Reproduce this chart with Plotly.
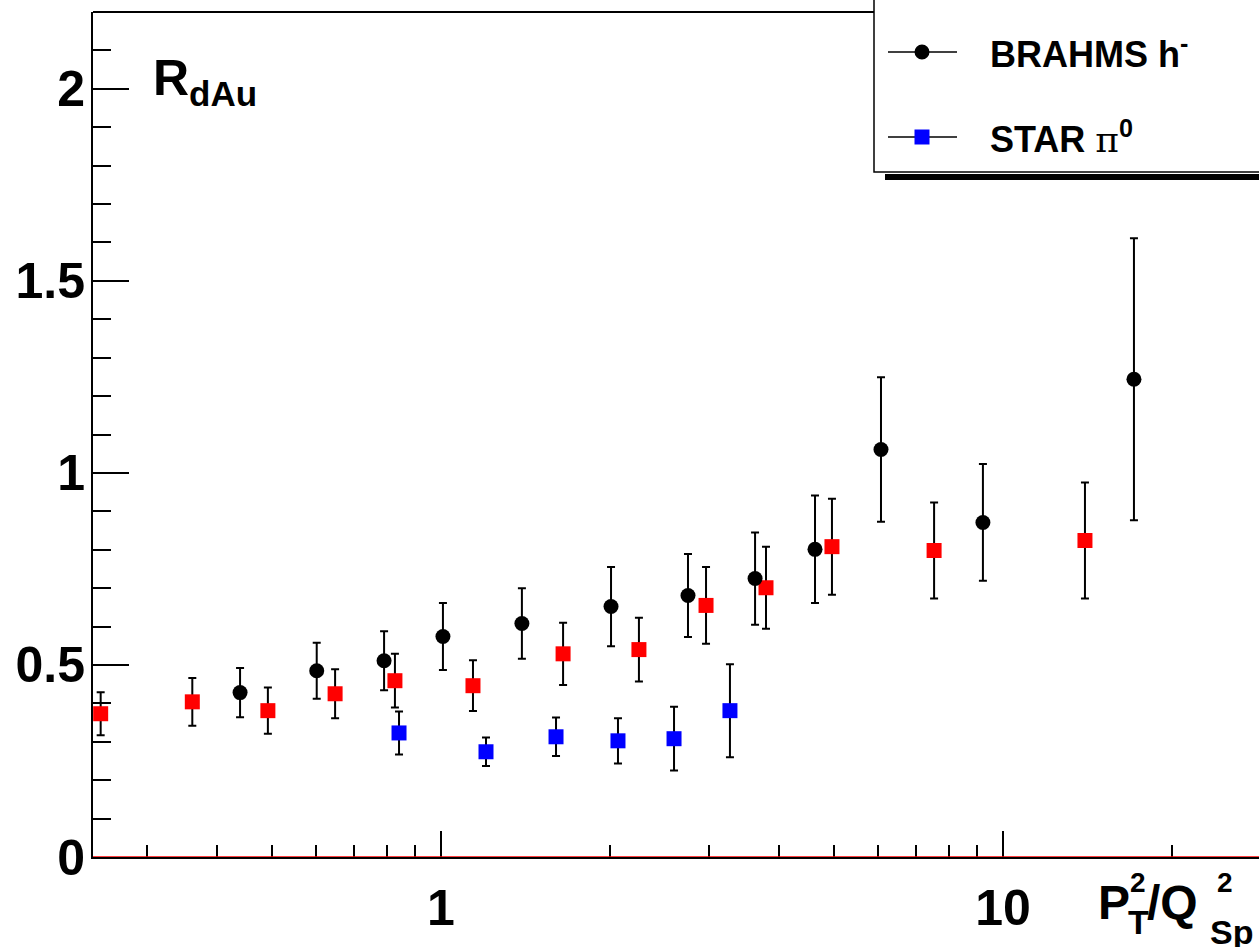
import plotly.graph_objects as go

# ---------------- data ----------------
brahms_x = [0.439, 0.601, 0.792, 1.008, 1.393, 2.007, 2.751, 3.621, 4.629, 6.066, 9.21, 17.1]
brahms_y = [0.428, 0.485, 0.511, 0.574, 0.608, 0.652, 0.681, 0.725, 0.801, 1.061, 0.871, 1.244]
brahms_err = [0.064, 0.073, 0.077, 0.087, 0.092, 0.103, 0.108, 0.120, 0.140, 0.188, 0.152, 0.367]

red_x = [0.248, 0.361, 0.492, 0.648, 0.828, 1.140, 1.649, 2.250, 2.962, 3.787, 4.962, 7.54, 13.99]
red_y = [0.373, 0.404, 0.381, 0.425, 0.459, 0.446, 0.529, 0.540, 0.655, 0.701, 0.808, 0.798, 0.824]
red_err = [0.056, 0.062, 0.060, 0.064, 0.070, 0.066, 0.081, 0.083, 0.100, 0.107, 0.125, 0.125, 0.151]

star_x = [0.842, 1.2025, 1.602, 2.065, 2.598, 3.267]
star_y = [0.323, 0.274, 0.313, 0.3025, 0.308, 0.381]
star_err = [0.056, 0.037, 0.050, 0.059, 0.083, 0.121]

x_tickvals = [1, 10]
x_ticktext = ["1", "10"]
x_minor = [0.3, 0.4, 0.5, 0.6, 0.7, 0.8, 0.9, 2, 3, 4, 5, 6, 7, 8, 9, 20]
y_tickvals = [0, 0.5, 1, 1.5, 2]
y_ticktext = ["0", "0.5", "1", "1.5", "2"]

# ---------------- geometry helpers (pixel -> paper) ----------------
W, H = 1259, 947
L, R, T, B = 93, 1259, 12, 857


def px(x):
    return (x - L) / (R - L)


def py(y):
    return (B - y) / (B - T)


FONT = "Liberation Sans"
err_style = dict(type="data", symmetric=True, color="black", thickness=2, width=4)

fig = go.Figure()
fig.add_trace(go.Scatter(x=red_x, y=red_y, mode="markers",
                         marker=dict(symbol="square", size=15, color="#ff0000", line=dict(width=0)),
                         error_y=dict(array=red_err, **err_style), showlegend=False))
fig.add_trace(go.Scatter(x=star_x, y=star_y, mode="markers",
                         marker=dict(symbol="square", size=15, color="#0000ff", line=dict(width=0)),
                         error_y=dict(array=star_err, **err_style), showlegend=False))
fig.add_trace(go.Scatter(x=brahms_x, y=brahms_y, mode="markers",
                         marker=dict(symbol="circle", size=15, color="black", line=dict(width=0)),
                         error_y=dict(array=brahms_err, **err_style), showlegend=False))

shapes = []
# top frame line (up to the legend box)
shapes.append(dict(type="line", xref="paper", yref="paper", x0=px(L), x1=px(874), y0=1, y1=1,
                   line=dict(color="black", width=2)))
# red zero line
shapes.append(dict(type="line", xref="paper", yref="y", x0=0, x1=1, y0=0, y1=0,
                   ysizemode="pixel", yanchor=0, layer="above",
                   line=dict(color="#ff0000", width=1.5)))
# legend box + shadow
shapes.append(dict(type="rect", xref="paper", yref="paper", x0=px(885), x1=px(1300), y0=py(180), y1=py(174),
                   fillcolor="black", line=dict(width=0), layer="above"))
shapes.append(dict(type="rect", xref="paper", yref="paper", x0=px(874), x1=px(1300), y0=py(172), y1=py(-10),
                   fillcolor="white", line=dict(color="black", width=1.5), layer="above"))
# legend samples
for yy in (52, 137):
    shapes.append(dict(type="line", xref="paper", yref="paper", x0=px(888), x1=px(957), y0=py(yy), y1=py(yy),
                       line=dict(color="black", width=1.5), layer="above"))
shapes.append(dict(type="circle", xref="paper", yref="paper", x0=px(914.5), x1=px(929.5), y0=py(59.5), y1=py(44.5),
                   fillcolor="black", line=dict(width=0), layer="above"))
shapes.append(dict(type="rect", xref="paper", yref="paper", x0=px(914.5), x1=px(929.5), y0=py(144.5), y1=py(129.5),
                   fillcolor="#0000ff", line=dict(width=0), layer="above"))


def ann(text, x, y, size, xanchor="left", yanchor="middle"):
    return dict(text=text, xref="paper", yref="paper", x=px(x), y=py(y), xanchor=xanchor, yanchor=yanchor,
                showarrow=False, font=dict(family=FONT, size=size, color="black", weight="bold"))


annotations = [
    ann("BRAHMS h<sup>-</sup>", 988, 52, 36),
    ann("STAR <span style=\"font-family:'DejaVu Serif';font-weight:normal\">π</span><sup>0</sup>", 988, 137, 36),
    ann("R<sub>dAu</sub>", 151, 82, 50),
    ann("P", 1096, 902, 48),
    ann("2", 1138, 883, 28, xanchor="center"),
    ann("T", 1138, 922, 34, xanchor="center"),
    ann("/Q", 1145, 902, 48),
    ann("2", 1225, 883, 28, xanchor="center"),
    ann("Sp", 1231, 932, 34, xanchor="center"),
]

fig.update_layout(
    width=W, height=H,
    margin=dict(l=L, r=W - R, t=T, b=H - B, autoexpand=False),
    paper_bgcolor="white", plot_bgcolor="white",
    shapes=shapes, annotations=annotations,
    showlegend=False,
    xaxis=dict(type="log", range=[-0.6192, 1.4555], showgrid=False, zeroline=False, automargin=False,
               showline=True, linecolor="black", linewidth=2, mirror=False,
               ticks="inside", ticklen=26, tickwidth=1.5, tickcolor="black",
               tickvals=x_tickvals, ticktext=x_ticktext, ticklabelstandoff=6,
               tickfont=dict(family=FONT, size=50, color="black", weight="bold"),
               minor=dict(tickvals=x_minor, ticks="inside", ticklen=12, tickwidth=1.5,
                          tickcolor="black", showgrid=False)),
    yaxis=dict(range=[0, 2.2], showgrid=False, zeroline=False, automargin=False,
               showline=True, linecolor="black", linewidth=2, mirror=False,
               ticks="inside", ticklen=36, tickwidth=1.5, tickcolor="black",
               tickvals=y_tickvals, ticktext=y_ticktext, ticklabelstandoff=-4,
               tickfont=dict(family=FONT, size=50, color="black", weight="bold"),
               minor=dict(dtick=0.1, ticks="inside", ticklen=18, tickwidth=1.5,
                          tickcolor="black", showgrid=False)),
)

fig.write_html("out.html", config={"displayModeBar": False},
               post_script="document.body.style.margin='0';document.body.style.overflow='hidden';")
